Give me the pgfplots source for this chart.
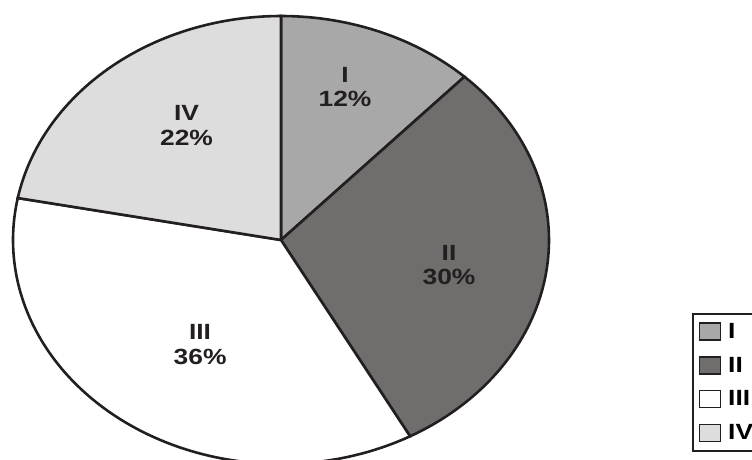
\documentclass[border=0pt]{standalone}
\usepackage{fontspec}
\setmainfont{Liberation Sans}
\usepackage{pgfplots}
\usepackage{pgfplotstable}
\pgfplotsset{compat=1.18}
\definecolor{cI}{HTML}{A8A8A8}
\definecolor{cII}{HTML}{6F6E6D}
\definecolor{cIII}{HTML}{FFFFFF}
\definecolor{cIV}{HTML}{DDDDDD}
\definecolor{edge}{HTML}{231F20}
\tikzset{pielabel/.style={font=\fontsize{22}{24.5}\selectfont\bfseries, align=center,
    xscale=1.2, transform shape, text=edge, inner sep=0pt}}
\pgfplotstableread{
label pct
I 12
II 30
III 36
IV 22
}\piedata
\pgfplotstablegetelem{0}{pct}\of\piedata \let\pA\pgfplotsretval
\pgfplotstablegetelem{1}{pct}\of\piedata \let\pB\pgfplotsretval
\pgfplotstablegetelem{2}{pct}\of\piedata \let\pC\pgfplotsretval
\pgfplotstablegetelem{3}{pct}\of\piedata \let\pD\pgfplotsretval
\pgfmathsetmacro\aO{90}
\pgfmathsetmacro\aA{\aO-3.6*\pA}
\pgfmathsetmacro\aB{\aA-3.6*\pB}
\pgfmathsetmacro\aC{\aB-3.6*\pC}
\pgfmathsetmacro\aD{\aC-3.6*\pD}
\begin{document}%
\begin{tikzpicture}
\useasboundingbox (0,0) rectangle (752pt,459pt);
\clip (0,0) rectangle (752pt,459pt);
\begin{axis}[
  at={(13pt,-5pt)}, anchor=south west,
  scale only axis, width=536pt, height=448pt,
  xmin=-1, xmax=1, ymin=-1, ymax=1,
  hide axis, clip=false,
  legend image code/.code={\draw[#1, line width=1.3pt] (0pt,-8.5pt) rectangle (21pt,8.5pt);},
  legend cell align=left,
  legend style={at={(1.2668,0.337)}, anchor=north west,
    draw=edge, line width=1.8pt, inner xsep=6pt, inner ysep=8.5pt,
    row sep=15.5pt, column sep=7pt, nodes={inner sep=0pt},
    font=\fontsize{22}{24}\selectfont\bfseries},
]
\addplot[draw=edge, fill=cI, line width=2.6pt, domain=\aA:\aO, samples=60, variable=\t]
  ({cos(\t)},{sin(\t)}) -- (axis cs:0,0) -- cycle;
\addplot[draw=edge, fill=cII, line width=2.6pt, domain=\aB:\aA, samples=80, variable=\t]
  ({cos(\t)},{sin(\t)}) -- (axis cs:0,0) -- cycle;
\addplot[draw=edge, fill=cIII, line width=2.6pt, domain=\aC:\aB, samples=80, variable=\t]
  ({cos(\t)},{sin(\t)}) -- (axis cs:0,0) -- cycle;
\addplot[draw=edge, fill=cIV, line width=2.6pt, domain=\aD:\aC, samples=60, variable=\t]
  ({cos(\t)},{sin(\t)}) -- (axis cs:0,0) -- cycle;
\legend{\scalebox{1.2}[1]{I},\scalebox{1.2}[1]{II},\scalebox{1.2}[1]{III},\scalebox{1.2}[1]{IV}}
\node[pielabel] at (axis cs:0.239,0.683) {I\\12\%};
\node[pielabel] at (axis cs:0.627,-0.112) {II\\30\%};
\node[pielabel] at (axis cs:-0.302,-0.4665) {III\\36\%};
\node[pielabel] at (axis cs:-0.3526,0.511) {IV\\22\%};
\end{axis}
\end{tikzpicture}%
\end{document}
